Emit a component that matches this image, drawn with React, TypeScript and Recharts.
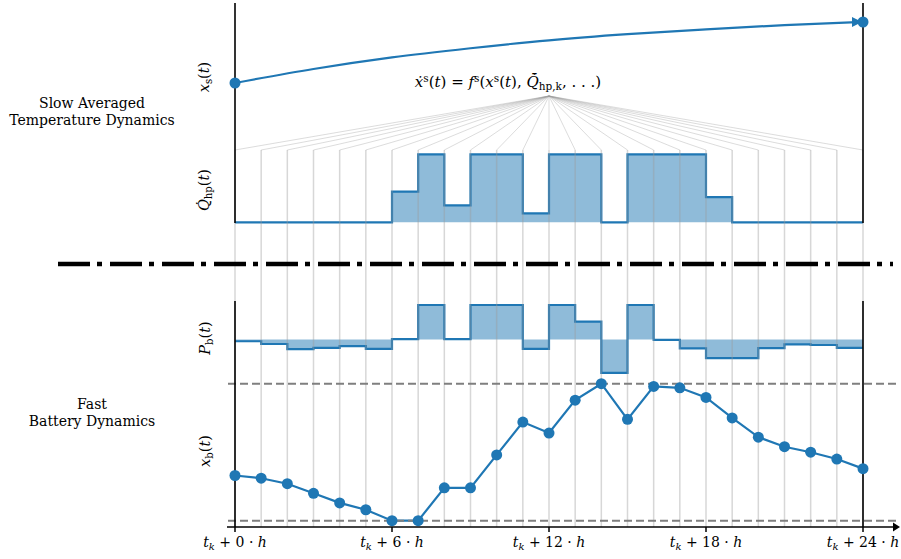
import React from "react";
import {
  Area,
  ComposedChart,
  Line,
  ReferenceDot,
  ReferenceLine,
  XAxis,
  YAxis,
} from "recharts";

// hourly grid of the prediction horizon
const HOURS = [0, 1, 2, 3, 4, 5, 6, 7, 8, 9, 10, 11, 12, 13, 14, 15, 16, 17, 18, 19, 20, 21, 22, 23, 24];
const X_TICKS = [0, 6, 12, 18, 24];

// heat pump power per hour (normalised)
const QHP = [0, 0, 0, 0, 0, 0, 0.45, 1, 0.25, 1, 1, 0.13, 1, 1, 0, 1, 1, 1, 0.37, 0, 0, 0, 0, 0];
// battery power per hour (normalised)
const PB = [
  -0.05, -0.13, -0.28, -0.24, -0.19, -0.27, 0.01, 1, 0.01, 1, 1, -0.27,
  1, 0.52, -0.97, 1, -0.01, -0.26, -0.54, -0.54, -0.25, -0.14, -0.16, -0.24,
];
// battery state of charge at each hour (0 = lower bound, 1 = upper bound)
const XB = [
  0.33, 0.31, 0.27, 0.2, 0.13, 0.08, 0, 0, 0.24, 0.24, 0.48, 0.72, 0.64,
  0.88, 1, 0.74, 0.98, 0.97, 0.9, 0.75, 0.61, 0.54, 0.5, 0.45, 0.38,
];
// slow temperature state
const XS_T = [0, 3, 6, 9, 12, 15, 18, 21, 24];
const XS = [0, 0.23, 0.42, 0.57, 0.7, 0.8, 0.88, 0.95, 1];

const rows = HOURS.map((t) => ({
  t,
  qhp: QHP[Math.min(t, QHP.length - 1)],
  pb: PB[Math.min(t, PB.length - 1)],
  xb: XB[t],
}));
const xsRows = XS_T.map((t, i) => ({ t, xs: XS[i] }));

// layout
const W = 901;
const H = 559;
const LEFT = 235;
const RIGHT = 38;
const TOP = 3;
const XAXIS_H = 32;
const BOTTOM = H - XAXIS_H; // 527
const PX_H = (W - LEFT - RIGHT) / 24;
const toT = (px: number) => (px - LEFT) / PX_H;

const BLUE = "#1f77b4";
const SERIF = "DejaVu Serif";

// y domain so that value v0 sits at pixel p0 and v1 at pixel p1
const band = (v0: number, p0: number, v1: number, p1: number): [number, number] => {
  const s = (p1 - p0) / (v1 - v0);
  const a = v0 + (TOP - p0) / s;
  const b = v0 + (BOTTOM - p0) / s;
  return [Math.min(a, b), Math.max(a, b)];
};

const TimeTick = (props: any) => {
  const { x, y, payload } = props;
  return (
    <text x={x} y={y + 13} textAnchor="middle" style={{ fontFamily: SERIF, whiteSpace: "pre" }} fontSize={14} fill="#000">
      <tspan fontStyle="italic">t</tspan>
      <tspan fontStyle="italic" fontSize={10} dy={3}>k</tspan>
      <tspan dy={-3}>{` + ${payload.value} · `}</tspan>
      <tspan fontStyle="italic">h</tspan>
    </text>
  );
};

const XsDot = (props: any) => {
  const { cx, cy, index } = props;
  if (index !== 0 && index !== xsRows.length - 1) return <g key={`xs-${index}`} />;
  return (
    <g key={`xs-${index}`}>
      {index > 0 && <path d={`M${cx - 11},${cy - 5} L${cx - 1},${cy} L${cx - 11},${cy + 5} Z`} fill={BLUE} />}
      <circle cx={cx} cy={cy} r={5.5} fill={BLUE} />
    </g>
  );
};

const Arrow = (props: any) => {
  const { cx, cy } = props;
  return <path d={`M${cx - 3},${cy - 4.5} L${cx + 4},${cy} L${cx - 3},${cy + 4.5} Z`} fill="#000" />;
};

const sub = { fontSize: "0.7em", verticalAlign: "-0.3em", fontStyle: "normal" } as React.CSSProperties;
const sup = { fontSize: "0.7em", verticalAlign: "0.5em", fontStyle: "normal" } as React.CSSProperties;

const RotLabel = ({ x, y, children }: { x: number; y: number; children: React.ReactNode }) => (
  <div
    style={{
      position: "absolute",
      left: x,
      top: y,
      transform: "translate(-50%, -50%) rotate(-90deg)",
      fontFamily: SERIF,
      fontSize: 14.5,
      whiteSpace: "nowrap",
      lineHeight: 1,
    }}
  >
    {children}
  </div>
);

const SideText = ({ x, y, lines }: { x: number; y: number; lines: string[] }) => (
  <div
    style={{
      position: "absolute",
      left: x,
      top: y,
      transform: "translate(-50%, -50%)",
      fontFamily: SERIF,
      fontSize: 14,
      lineHeight: "17px",
      textAlign: "center",
      whiteSpace: "nowrap",
    }}
  >
    {lines.map((l) => (
      <div key={l}>{l}</div>
    ))}
  </div>
);

const grey = { stroke: "#9a9a9a", strokeOpacity: 0.4, strokeWidth: 1.5 };

export default function App() {
  return (
    <div style={{ position: "absolute", left: 0, top: 0, width: W, height: H, background: "#fff" }}>
      <ComposedChart width={W} height={H} data={rows} margin={{ top: TOP, right: RIGHT, left: LEFT, bottom: 0 }}>
        <XAxis
          dataKey="t"
          type="number"
          domain={[0, 24]}
          ticks={X_TICKS}
          height={XAXIS_H}
          axisLine={false}
          tickSize={5}
          tickLine={{ stroke: "#000", strokeWidth: 1.5 }}
          tick={<TimeTick />}
          interval={0}
        />
        <YAxis yAxisId="px" type="number" domain={[TOP, BOTTOM]} reversed hide allowDataOverflow />
        <YAxis yAxisId="xs" type="number" domain={band(0, 83, 1, 22)} hide />
        <YAxis yAxisId="qhp" type="number" domain={band(0, 222.3, 1, 154.3)} hide />
        <YAxis yAxisId="pb" type="number" domain={band(0, 339.5, 1, 305)} hide />
        <YAxis yAxisId="xb" type="number" domain={band(0, 520.7, 1, 383.7)} hide />

        {HOURS.map((h) => (
          <ReferenceLine
            key={`v${h}`}
            yAxisId="px"
            ifOverflow="visible"
            segment={[{ x: h, y: 150 }, { x: h, y: BOTTOM }]}
            {...grey}
          />
        ))}
        {HOURS.map((h) => (
          <ReferenceLine
            key={`f${h}`}
            yAxisId="px"
            ifOverflow="visible"
            segment={[{ x: 12, y: 96 }, { x: h, y: 150 }]}
            stroke="#9a9a9a"
            strokeOpacity={0.35}
            strokeWidth={1}
          />
        ))}

        <Area
          yAxisId="qhp"
          dataKey="qhp"
          type="stepAfter"
          baseValue={0}
          stroke={BLUE}
          strokeWidth={2.2}
          fill={BLUE}
          fillOpacity={0.5}
          dot={false}
          activeDot={false}
          isAnimationActive={false}
        />
        <Area
          yAxisId="pb"
          dataKey="pb"
          type="stepAfter"
          baseValue={0}
          stroke={BLUE}
          strokeWidth={2.2}
          fill={BLUE}
          fillOpacity={0.5}
          dot={false}
          activeDot={false}
          isAnimationActive={false}
        />
        <Line
          yAxisId="xs"
          data={xsRows}
          dataKey="xs"
          type="monotone"
          stroke={BLUE}
          strokeWidth={2.2}
          dot={XsDot}
          activeDot={false}
          isAnimationActive={false}
        />
        <Line
          yAxisId="xb"
          dataKey="xb"
          type="linear"
          stroke={BLUE}
          strokeWidth={2.2}
          dot={{ r: 5.5, fill: BLUE, stroke: BLUE, strokeWidth: 0 }}
          activeDot={false}
          isAnimationActive={false}
        />

        {[0, 1].map((v) => (
          <ReferenceLine
            key={`b${v}`}
            yAxisId="xb"
            ifOverflow="visible"
            segment={[{ x: toT(228), y: v }, { x: toT(900), y: v }]}
            stroke="#7f7f7f"
            strokeWidth={2}
            strokeDasharray="8 4"
          />
        ))}

        {/* spines */}
        {[0, 24].map((x) => (
          <ReferenceLine key={`st${x}`} yAxisId="px" ifOverflow="visible" segment={[{ x, y: TOP }, { x, y: 223 }]} stroke="#000" strokeWidth={1.6} />
        ))}
        {[0, 24].map((x) => (
          <ReferenceLine key={`sb${x}`} yAxisId="px" ifOverflow="visible" segment={[{ x, y: 301 }, { x, y: BOTTOM }]} stroke="#000" strokeWidth={1.6} />
        ))}
        <ReferenceLine
          yAxisId="px"
          ifOverflow="visible"
          segment={[{ x: toT(227), y: BOTTOM }, { x: toT(896), y: BOTTOM }]}
          stroke="#000"
          strokeWidth={1.6}
        />
        <ReferenceDot yAxisId="px" x={toT(896)} y={BOTTOM} ifOverflow="visible" shape={Arrow} />

        {/* separator between slow and fast dynamics */}
        <ReferenceLine
          yAxisId="px"
          ifOverflow="visible"
          segment={[{ x: toT(58), y: 264 }, { x: toT(893), y: 264 }]}
          stroke="#000"
          strokeWidth={4.5}
          strokeDasharray="32 7 5 8"
        />
      </ComposedChart>

      <SideText x={92} y={112} lines={["Slow Averaged", "Temperature Dynamics"]} />
      <SideText x={92} y={413} lines={["Fast", "Battery Dynamics"]} />

      <RotLabel x={206} y={77}>
        <i>x</i>
        <span style={sub}>s</span>(<i>t</i>)
      </RotLabel>
      <RotLabel x={206} y={190}>
        <i>{"Q\u0307"}</i>
        <span style={sub}>hp</span>(<i>t</i>)
      </RotLabel>
      <RotLabel x={207} y={338}>
        <i>P</i>
        <span style={sub}>b</span>(<i>t</i>)
      </RotLabel>
      <RotLabel x={207} y={451}>
        <i>x</i>
        <span style={sub}>b</span>(<i>t</i>)
      </RotLabel>

      <div
        style={{
          position: "absolute",
          left: 508,
          top: 82,
          transform: "translate(-50%, -50%)",
          fontFamily: SERIF,
          fontSize: 15,
          whiteSpace: "nowrap",
          lineHeight: 1,
        }}
      >
        <i>{"x\u0307"}</i>
        <span style={sup}>s</span>(<i>t</i>) = <i>f</i>
        <span style={sup}>s</span>(<i>x</i>
        <span style={sup}>s</span>(<i>t</i>), <i>{"Q\u0307\u0304"}</i>
        <span style={sub}>hp,k</span>, . . .)
      </div>
    </div>
  );
}
